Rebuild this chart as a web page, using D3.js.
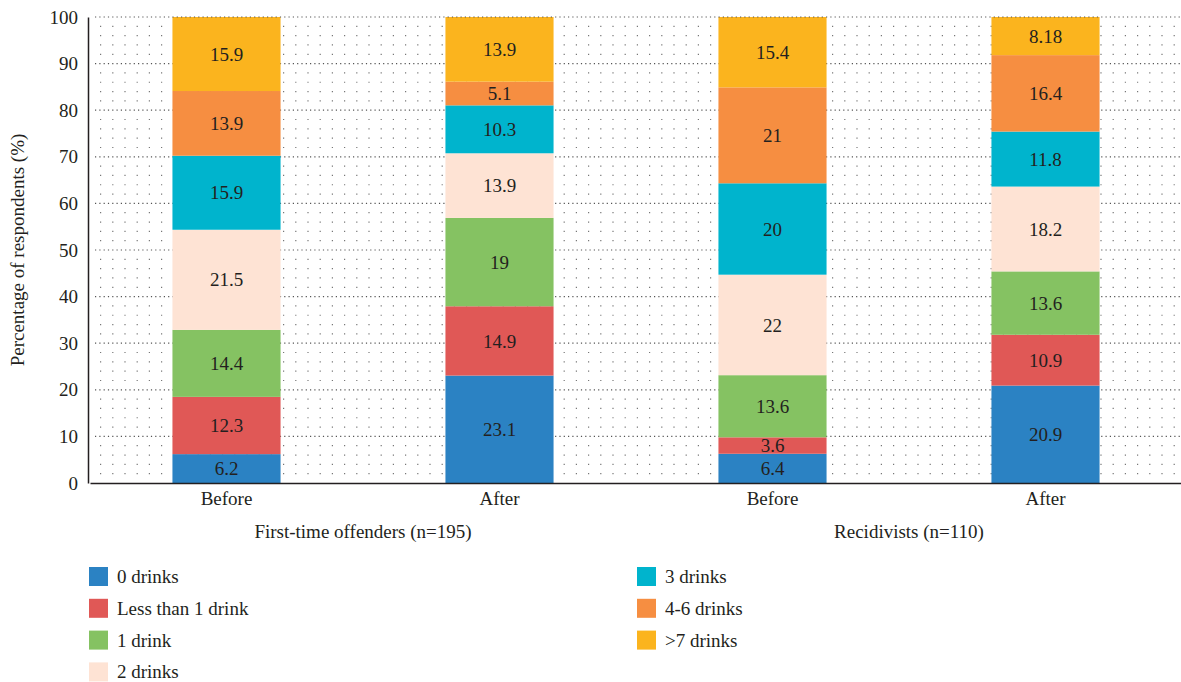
<!DOCTYPE html>
<html>
<head>
<meta charset="utf-8">
<script src="https://cdn.jsdelivr.net/npm/d3@7.9.0/dist/d3.min.js"></script>
<style>
  body { margin: 0; background: #fff; }
</style>
</head>
<body>
<svg id="chart" width="1181" height="682"></svg>
<script>
// categories / bars
const bars = ["ft-before", "ft-after", "rc-before", "rc-after"];
const barLabels = ["Before", "After", "Before", "After"];
const groups = ["First-time offenders (n=195)", "Recidivists (n=110)"];

// series (drink categories) and colours
const series = ["0 drinks", "Less than 1 drink", "1 drink", "2 drinks", "3 drinks", "4-6 drinks", ">7 drinks"];
const colors = ["#2b82c3", "#e05856", "#85c262", "#fee3d4", "#00b4cd", "#f68e41", "#fbb41e"];

// values per bar, in series order
const zeroDrinks   = [6.2, 23.1, 6.4, 20.9];
const lessThanOne  = [12.3, 14.9, 3.6, 10.9];
const oneDrink     = [14.4, 19, 13.6, 13.6];
const twoDrinks    = [21.5, 13.9, 22, 18.2];
const threeDrinks  = [15.9, 10.3, 20, 11.8];
const fourToSix    = [13.9, 5.1, 21, 16.4];
const sevenPlus    = [15.9, 13.9, 15.4, 8.18];

const yTicks = [0, 10, 20, 30, 40, 50, 60, 70, 80, 90, 100];

const FONT = "Liberation Serif";
const FS = 19;
const INK = "#231f20";

const seriesValues = [zeroDrinks, lessThanOne, oneDrink, twoDrinks, threeDrinks, fourToSix, sevenPlus];
const table = bars.map((b, i) => {
  const row = { bar: b };
  series.forEach((s, j) => row[s] = seriesValues[j][i]);
  return row;
});

const svg = d3.select("#chart");
const margin = { top: 17, right: 1, bottom: 199, left: 88 };
const W = +svg.attr("width"), H = +svg.attr("height");
const width = W - margin.left - margin.right;
const height = H - margin.top - margin.bottom;

const g = svg.append("g").attr("transform", `translate(${margin.left},${margin.top})`);

const x = d3.scaleBand().domain(bars).range([2, width + 2])
  .paddingInner(0.604).paddingOuter(0.302);
const y = d3.scaleLinear().domain([0, 100]).range([height, 0]);

// dotted grid: minor every 2, major every 10
const minor = d3.range(2, 100, 2).filter(v => v % 10 !== 0);
g.append("g").selectAll("line").data(minor).join("line")
  .attr("x1", 12).attr("x2", width)
  .attr("y1", d => y(d)).attr("y2", d => y(d))
  .attr("stroke", "#777").attr("stroke-width", 1.2)
  .attr("stroke-dasharray", "1.2 11");
g.append("g").selectAll("line").data(yTicks.filter(v => v > 0 && v < 100)).join("line")
  .attr("x1", 7).attr("x2", width)
  .attr("y1", d => y(d)).attr("y2", d => y(d))
  .attr("stroke", "#555").attr("stroke-width", 1.2)
  .attr("stroke-dasharray", "1.2 3.1");

// stacked bars, each normalised to 100 %
const stack = d3.stack().keys(series).offset(d3.stackOffsetExpand);
const layers = stack(table);

const layer = g.append("g").selectAll("g").data(layers).join("g")
  .attr("fill", (d, i) => colors[i]);

layer.selectAll("rect").data(d => d).join("rect")
  .attr("x", d => x(d.data.bar))
  .attr("y", d => y(d[1] * 100))
  .attr("height", d => y(d[0] * 100) - y(d[1] * 100))
  .attr("width", x.bandwidth());

layers.forEach((L, i) => {
  g.append("g").selectAll("text").data(L).join("text")
    .attr("x", d => x(d.data.bar) + x.bandwidth() / 2)
    .attr("y", d => (y(d[0] * 100) + y(d[1] * 100)) / 2)
    .attr("dy", "0.35em")
    .attr("text-anchor", "middle")
    .attr("font-family", FONT)
    .attr("font-size", FS)
    .attr("fill", INK)
    .text(d => d.data[series[i]]);
});

// top grid line drawn over bars
g.append("line")
  .attr("x1", 7).attr("x2", width)
  .attr("y1", y(100)).attr("y2", y(100))
  .attr("stroke", "#555").attr("stroke-width", 1.2)
  .attr("stroke-dasharray", "1.2 3.1");

// axes
const yAxis = g.append("g")
  .call(d3.axisLeft(y).tickValues(yTicks).tickSize(0).tickPadding(10));
yAxis.select(".domain").attr("stroke", INK).attr("stroke-width", 1.5);
yAxis.selectAll("text").attr("font-size", FS).attr("fill", INK).attr("font-family", FONT);

const xAxis = g.append("g")
  .attr("transform", `translate(0,${height})`)
  .call(d3.axisBottom(x).tickSize(0).tickPadding(9).tickFormat((d, i) => barLabels[i]));
xAxis.select(".domain").attr("stroke", INK).attr("stroke-width", 1.5);
xAxis.selectAll("text").attr("font-size", FS).attr("fill", INK).attr("font-family", FONT);

// group labels
groups.forEach((lab, k) => {
  const a = x(bars[k * 2]) + x.bandwidth() / 2;
  const b = x(bars[k * 2 + 1]) + x.bandwidth() / 2;
  g.append("text")
    .attr("x", (a + b) / 2)
    .attr("y", height + 55)
    .attr("text-anchor", "middle")
    .attr("font-family", FONT)
    .attr("font-size", FS)
    .attr("fill", INK)
    .text(lab);
});

// y title
svg.append("text")
  .attr("transform", `translate(24,${margin.top + height / 2}) rotate(-90)`)
  .attr("text-anchor", "middle")
  .attr("font-family", FONT)
  .attr("font-size", FS)
  .attr("fill", INK)
  .text("Percentage of respondents (%)");

// legend
const legend = svg.append("g");
series.forEach((s, i) => {
  const col = i < 4 ? 0 : 1;
  const row = i < 4 ? i : i - 4;
  const lx = col === 0 ? 89 : 637;
  const ly = 567 + row * 31.8;
  legend.append("rect")
    .attr("x", lx).attr("y", ly)
    .attr("width", 19).attr("height", 19)
    .attr("fill", colors[i]);
  legend.append("text")
    .attr("x", lx + 28).attr("y", ly + 16)
    .attr("font-family", FONT)
    .attr("font-size", FS)
    .attr("fill", INK)
    .text(s);
});
</script>
</body>
</html>
